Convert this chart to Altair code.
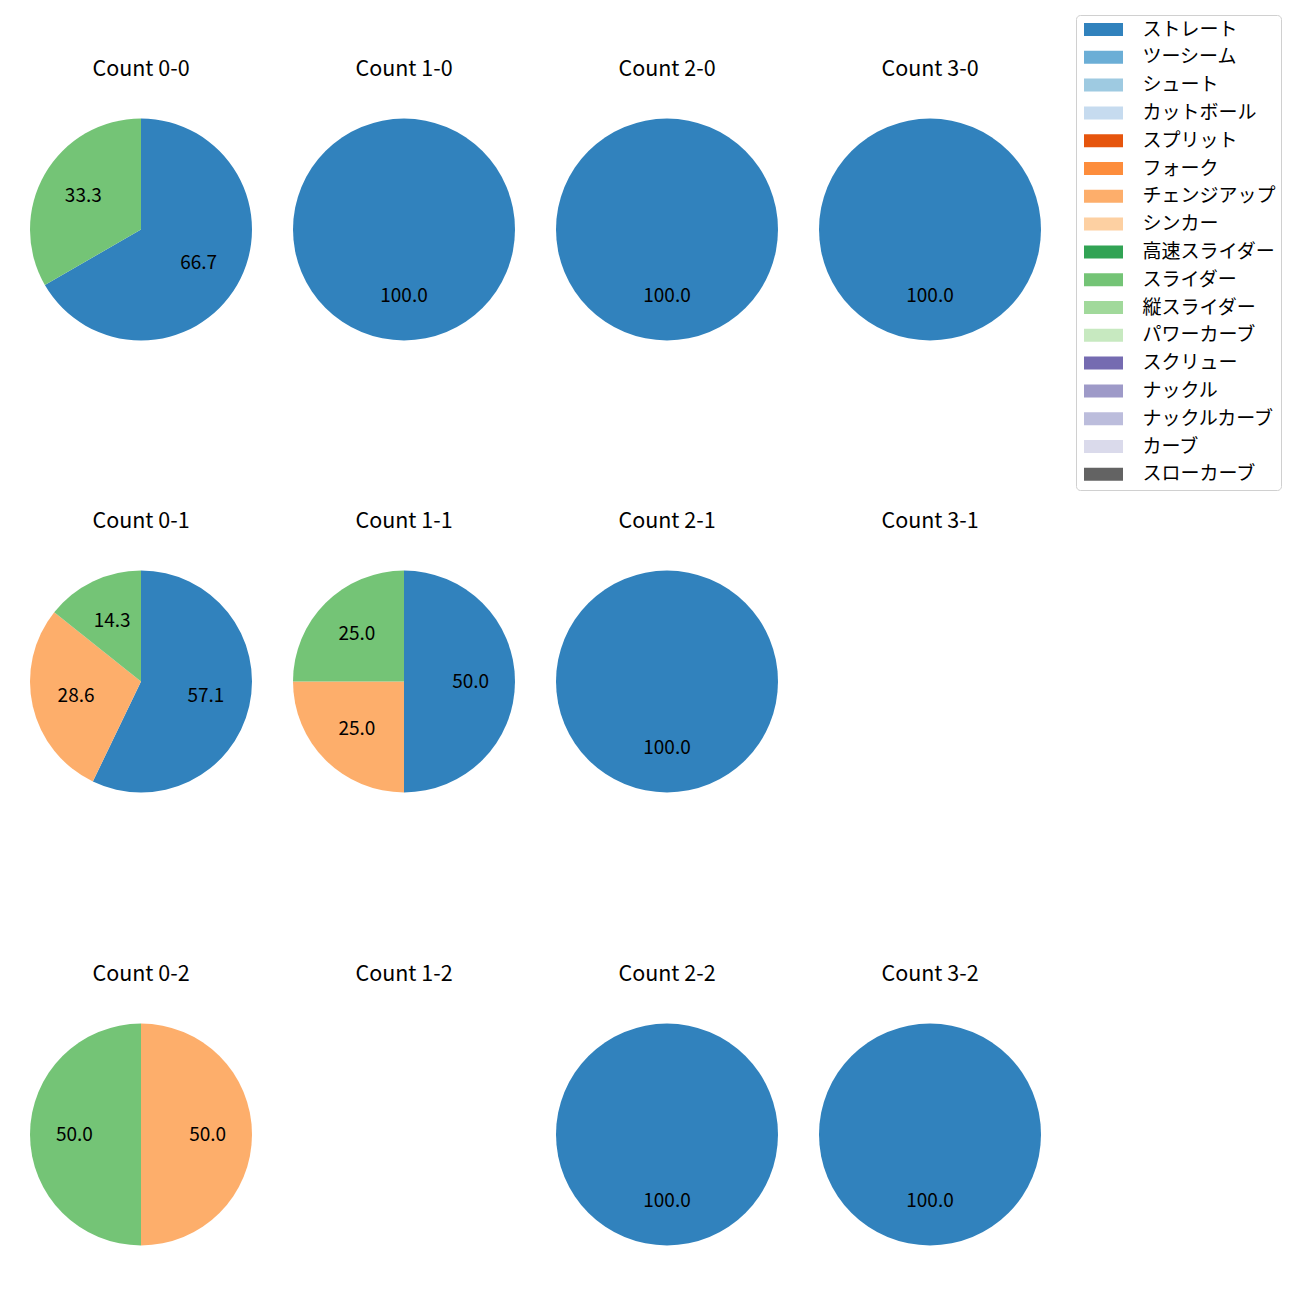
import altair as alt
import pandas as pd

FONT = "Noto Sans CJK JP"

pitch_types = ["ストレート", "ツーシーム", "シュート", "カットボール", "スプリット", "フォーク",
               "チェンジアップ", "シンカー", "高速スライダー", "スライダー", "縦スライダー",
               "パワーカーブ", "スクリュー", "ナックル", "ナックルカーブ", "カーブ", "スローカーブ"]
pitch_colors = ["#3182bd", "#6baed6", "#9ecae1", "#c6dbef", "#e6550d", "#fd8d3c",
                "#fdae6b", "#fdd0a2", "#31a354", "#74c476", "#a1d99b", "#c7e9c0",
                "#756bb1", "#9e9ac8", "#bcbddc", "#dadaeb", "#636363"]

# panels in grid order (rows = strikes, columns = balls)
panel_titles = ["Count 0-0", "Count 1-0", "Count 2-0", "Count 3-0",
                "Count 0-1", "Count 1-1", "Count 2-1", "Count 3-1",
                "Count 0-2", "Count 1-2", "Count 2-2", "Count 3-2"]
panel_types = [["ストレート", "スライダー"], ["ストレート"], ["ストレート"], ["ストレート"],
               ["ストレート", "チェンジアップ", "スライダー"], ["ストレート", "チェンジアップ", "スライダー"], ["ストレート"], [],
               ["チェンジアップ", "スライダー"], [], ["ストレート"], ["ストレート"]]
panel_counts = [[2, 1], [1], [1], [1],
                [4, 2, 1], [2, 1, 1], [1], [],
                [1, 1], [], [1], [1]]

CELL_W = 263
ROW_H = [452, 453, 300]
CX = 133
CY = 221.5
R = 111
TITLE_Y = 62

color_scale = alt.Scale(domain=pitch_types, range=pitch_colors)


def make_cell(title, types, counts, height):
    title_layer = alt.Chart(alt.Data(values=[{"t": title}])).mark_text(
        font=FONT, fontSize=21.5, color="black", baseline="middle", align="center"
    ).encode(x=alt.value(CX), y=alt.value(TITLE_Y), text="t:N")
    if not types:
        return title_layer.properties(width=CELL_W, height=height)
    df = pd.DataFrame({
        "type": types,
        "n": counts,
        "idx": [pitch_types.index(t) for t in types],
    })
    base = alt.Chart(df).transform_joinaggregate(total="sum(n)").transform_calculate(
        pct="datum.n / datum.total * 100"
    ).encode(
        theta=alt.Theta("n:Q", stack=True),
        order=alt.Order("idx:Q"),
    )
    arcs = base.mark_arc(radius=R, strokeWidth=0).encode(
        x=alt.value(CX), y=alt.value(CY),
        color=alt.Color("type:N", scale=color_scale,
                        legend=alt.Legend(title=None, values=pitch_types)),
    )
    labels = base.mark_text(radius=R * 0.6, font=FONT, fontSize=19, color="black",
                            baseline="middle", align="center").encode(
        x=alt.value(CX), y=alt.value(CY),
        text=alt.Text("pct:Q", format=".1f"),
    )
    return alt.layer(arcs, labels, title_layer).properties(width=CELL_W, height=height)


rows = []
for r in range(3):
    cells = []
    for c in range(4):
        i = r * 4 + c
        cells.append(make_cell(panel_titles[i], panel_types[i], panel_counts[i], ROW_H[r]))
    rows.append(alt.hconcat(*cells, spacing=0))

chart = alt.vconcat(*rows, spacing=0).properties(padding=0).configure_view(
    stroke=None
).configure_legend(
    orient="none", legendX=1068, legendY=7,
    strokeColor="#d0d0d0", cornerRadius=4, fillColor="white", padding=5,
    labelFont=FONT, labelFontSize=19, labelColor="black", labelLimit=400, labelOffset=29.4,
    symbolType="M-3,-1H3V1H-3Z", symbolSize=169, symbolStrokeWidth=0,
    symbolOffset=13, rowPadding=7.8,
)

chart.save("out.html", embed_options={"renderer": "svg", "actions": False})
